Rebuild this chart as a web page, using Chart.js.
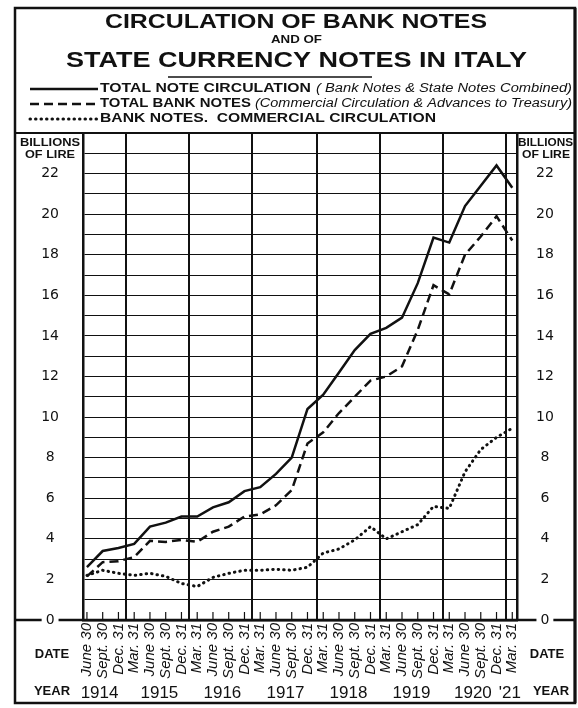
<!DOCTYPE html>
<html>
<head>
<meta charset="utf-8">
<title>Circulation of Bank Notes and of State Currency Notes in Italy</title>
<script src="https://cdn.jsdelivr.net/npm/chart.js@4.4.0/dist/chart.umd.min.js"></script>
<style>
    html, body { margin: 0; padding: 0; background: #fff; }
    #wrap { width: 578px; height: 708px; }
</style>
</head>
<body>
<div id="wrap"><canvas id="notesChart" width="578" height="708"></canvas></div>
<script>
// Quarter dates, June 1914 .. March 1921 (one label per quarter)
const dateLabels = [
    'June 30', 'Sept. 30', 'Dec. 31',
    'Mar. 31', 'June 30', 'Sept. 30', 'Dec. 31',
    'Mar. 31', 'June 30', 'Sept. 30', 'Dec. 31',
    'Mar. 31', 'June 30', 'Sept. 30', 'Dec. 31',
    'Mar. 31', 'June 30', 'Sept. 30', 'Dec. 31',
    'Mar. 31', 'June 30', 'Sept. 30', 'Dec. 31',
    'Mar. 31', 'June 30', 'Sept. 30', 'Dec. 31',
    'Mar. 31'
];

// Year captions and where they sit on the quarter axis
const yearLabels = ['1914', '1915', '1916', '1917', '1918', '1919', '1920', "'21"];
const yearLabelPos = [0.8, 4.6, 8.6, 12.6, 16.6, 20.6, 24.5, 26.85];
const yearLinePos = [2.45, 6.45, 10.5, 14.6, 18.6, 22.6, 26.6];

// Billions of lire
const totalCirculation = [
    2.6, 3.4, 3.55, 3.75, 4.6, 4.8, 5.1, 5.1, 5.55, 5.8, 6.35, 6.55, 7.2, 8.0,
    10.4, 11.1, 12.2, 13.3, 14.1, 14.4, 14.9, 16.6, 18.85, 18.6, 20.4, 21.4, 22.4, 21.3
];
const totalBankNotes = [
    2.15, 2.85, 2.9, 3.1, 3.9, 3.85, 3.95, 3.85, 4.35, 4.6, 5.1, 5.2, 5.65, 6.4,
    8.7, 9.25, 10.2, 11.0, 11.8, 12.0, 12.5, 14.3, 16.5, 16.05, 18.0, 18.9, 19.9, 18.7
];
const commercialNotes = [
    2.2, 2.45, 2.3, 2.2, 2.3, 2.15, 1.8, 1.65, 2.1, 2.3, 2.45, 2.45, 2.5, 2.45,
    2.6, 3.3, 3.5, 3.95, 4.6, 4.0, 4.35, 4.7, 5.6, 5.5, 7.3, 8.4, 9.0, 9.45
];

const INK = '#111';
const SANS = '"Liberation Sans", Arial, sans-serif';

/**
 * Draw text squeezed/stretched to a given width, left aligned
 */
function fitText(ctx, text, x, y, font, width) {
    ctx.save();
    ctx.font = font;
    const w = ctx.measureText(text).width;
    ctx.translate(x, y);
    ctx.scale(width / w, 1);
    ctx.textAlign = 'left';
    ctx.textBaseline = 'middle';
    ctx.fillText(text, 0, 0);
    ctx.restore();
}

function centerText(ctx, text, x, y, font) {
    ctx.font = font;
    ctx.textAlign = 'center';
    ctx.textBaseline = 'middle';
    ctx.fillText(text, x, y);
}

// Frame, headings, legend and the little quarter ticks
const paperPlugin = {
    id: 'paper',
    beforeDraw(chart) {
        const ctx = chart.ctx;
        const area = chart.chartArea;
        ctx.save();
        ctx.fillStyle = '#fff';
        ctx.fillRect(0, 0, chart.width, chart.height);
        ctx.strokeStyle = INK;
        // zero line runs through both side columns (the "0" labels break it)
        ctx.lineWidth = 2.5;
        ctx.beginPath();
        ctx.moveTo(15, area.bottom);
        ctx.lineTo(575, area.bottom);
        ctx.stroke();
        ctx.restore();
    },
    afterDraw(chart) {
        const ctx = chart.ctx;
        const area = chart.chartArea;
        const xScale = chart.scales.x;
        ctx.save();
        ctx.fillStyle = INK;
        ctx.strokeStyle = INK;

        // outer frame
        ctx.lineWidth = 2.5;
        ctx.strokeRect(15, 8, 560, 695);
        ctx.lineWidth = 3;
        ctx.beginPath();
        ctx.moveTo(575, 8);
        ctx.lineTo(575, 703);
        ctx.stroke();
        // top rule of the grid box, across the side columns
        ctx.lineWidth = 2;
        ctx.beginPath();
        ctx.moveTo(15, area.top);
        ctx.lineTo(575, area.top);
        ctx.stroke();

        // title
        fitText(ctx, 'CIRCULATION OF BANK NOTES', 105, 22, 'bold 21px ' + SANS, 382);
        fitText(ctx, 'AND OF', 271, 40, 'bold 10px ' + SANS, 51);
        fitText(ctx, 'STATE CURRENCY NOTES IN ITALY', 66, 61, 'bold 22px ' + SANS, 461);
        ctx.lineWidth = 1.5;
        ctx.beginPath();
        ctx.moveTo(168, 77);
        ctx.lineTo(372, 77);
        ctx.stroke();

        // legend rows
        const rows = [
            { y: 89, ds: 0, bold: 'TOTAL NOTE CIRCULATION', bw: 211,
              it: '( Bank Notes & State Notes Combined)', ix: 316, iw: 256 },
            { y: 104, ds: 1, bold: 'TOTAL BANK NOTES', bw: 151,
              it: '(Commercial Circulation & Advances to Treasury)', ix: 255, iw: 317 },
            { y: 119, ds: 2, bold: 'BANK NOTES.  COMMERCIAL CIRCULATION', bw: 336 }
        ];
        rows.forEach(row => {
            const ds = chart.data.datasets[row.ds];
            ctx.save();
            ctx.lineWidth = ds.borderWidth;
            ctx.setLineDash(ds.borderDash || []);
            ctx.lineCap = ds.borderCapStyle || 'butt';
            ctx.beginPath();
            ctx.moveTo(30, row.y);
            ctx.lineTo(98, row.y);
            ctx.stroke();
            ctx.restore();
            fitText(ctx, row.bold, 100, row.y, 'bold 12px ' + SANS, row.bw);
            if (row.it) {
                fitText(ctx, row.it, row.ix, row.y, 'italic 12px ' + SANS, row.iw);
            }
        });

        // side column headings
        fitText(ctx, 'BILLIONS', 20, 143, 'bold 11px ' + SANS, 60);
        fitText(ctx, 'OF LIRE', 25, 155, 'bold 11px ' + SANS, 50);
        fitText(ctx, 'BILLIONS', 518, 143, 'bold 11px ' + SANS, 55);
        fitText(ctx, 'OF LIRE', 522, 155, 'bold 11px ' + SANS, 48);
        centerText(ctx, 'DATE', 52, 654, 'bold 13px ' + SANS);
        centerText(ctx, 'YEAR', 52, 691, 'bold 13px ' + SANS);
        centerText(ctx, 'DATE', 547, 654, 'bold 13px ' + SANS);
        centerText(ctx, 'YEAR', 551, 691, 'bold 13px ' + SANS);

        // small quarter ticks standing on the zero line
        ctx.lineWidth = 1.2;
        dateLabels.forEach((_, i) => {
            const px = xScale.getPixelForValue(i);
            ctx.beginPath();
            ctx.moveTo(px, area.bottom);
            ctx.lineTo(px, area.bottom - 8);
            ctx.stroke();
        });
        ctx.restore();
    }
};

function yTickLabel(value) {
    return (value % 2 === 0 && value <= 22) ? String(value) : '';
}

const quarterIdx = dateLabels.map((_, i) => i);
const toPoints = arr => arr.map((v, i) => ({ x: quarterIdx[i], y: v }));

const config = {
    type: 'line',
    data: {
        datasets: [
            {
                label: 'Total note circulation',
                data: toPoints(totalCirculation),
                borderColor: INK,
                borderWidth: 2.5,
                pointRadius: 0,
                tension: 0
            },
            {
                label: 'Total bank notes',
                data: toPoints(totalBankNotes),
                borderColor: INK,
                borderWidth: 2.5,
                borderDash: [9, 5],
                pointRadius: 0,
                tension: 0
            },
            {
                label: 'Bank notes, commercial circulation',
                data: toPoints(commercialNotes),
                borderColor: INK,
                borderWidth: 3,
                borderDash: [0.5, 5],
                borderCapStyle: 'round',
                pointRadius: 0,
                tension: 0
            }
        ]
    },
    options: {
        responsive: false,
        devicePixelRatio: 1,
        animation: false,
        layout: {
            padding: { left: 15, right: 3, top: 133, bottom: 5 }
        },
        plugins: {
            legend: { display: false },
            title: { display: false },
            tooltip: { enabled: false }
        },
        scales: {
            x: {
                type: 'linear',
                position: 'bottom',
                weight: 0,
                min: -0.25,
                max: 27.3,
                afterBuildTicks: scale => {
                    scale.ticks = quarterIdx.map(v => ({ value: v }));
                },
                afterFit: scale => { scale.height = 63; },
                ticks: {
                    autoSkip: false,
                    minRotation: 90,
                    maxRotation: 90,
                    padding: 3,
                    color: INK,
                    font: { family: SANS, size: 15, style: 'italic' },
                    callback: value => dateLabels[value] || ''
                },
                grid: { display: false, drawTicks: false },
                border: { display: true, width: 2.5, color: INK }
            },
            years: {
                type: 'linear',
                position: 'bottom',
                weight: 1,
                min: -0.25,
                max: 27.3,
                afterBuildTicks: scale => {
                    const vals = yearLinePos.concat(yearLabelPos).sort((a, b) => a - b);
                    scale.ticks = vals.map(v => ({ value: v }));
                },
                afterFit: scale => { scale.height = 20; },
                ticks: {
                    autoSkip: false,
                    maxRotation: 0,
                    minRotation: 0,
                    padding: 0,
                    color: INK,
                    font: { family: SANS, size: 17 },
                    callback: value => {
                        const k = yearLabelPos.indexOf(value);
                        return k >= 0 ? yearLabels[k] : '';
                    }
                },
                grid: {
                    drawTicks: false,
                    lineWidth: 2,
                    color: ctx => yearLinePos.includes(ctx.tick.value) ? INK : 'rgba(0,0,0,0)'
                },
                border: { display: false }
            },
            y: {
                type: 'linear',
                position: 'left',
                min: 0,
                max: 24,
                afterFit: scale => { scale.width = 68; },
                ticks: {
                    stepSize: 1,
                    autoSkip: false,
                    crossAlign: 'center',
                    padding: 24,
                    color: INK,
                    font: { family: '"DejaVu Sans", sans-serif', size: 14 },
                    showLabelBackdrop: true,
                    backdropColor: '#fff',
                    backdropPadding: { top: 0, bottom: 0, left: 4, right: 4 },
                    callback: yTickLabel
                },
                grid: {
                    drawTicks: false,
                    color: INK,
                    lineWidth: ctx => ctx.tick.value === 24 ? 2 : 1
                },
                border: { display: true, width: 2.5, color: INK }
            },
            y2: {
                type: 'linear',
                position: 'right',
                min: 0,
                max: 24,
                afterFit: scale => { scale.width = 58; },
                ticks: {
                    stepSize: 1,
                    autoSkip: false,
                    crossAlign: 'center',
                    padding: 19,
                    color: INK,
                    font: { family: '"DejaVu Sans", sans-serif', size: 14 },
                    showLabelBackdrop: true,
                    backdropColor: '#fff',
                    backdropPadding: { top: 0, bottom: 0, left: 4, right: 4 },
                    callback: yTickLabel
                },
                grid: { display: false, drawTicks: false },
                border: { display: true, width: 2.5, color: INK }
            }
        }
    },
    plugins: [paperPlugin]
};

new Chart(document.getElementById('notesChart'), config);
</script>
</body>
</html>
